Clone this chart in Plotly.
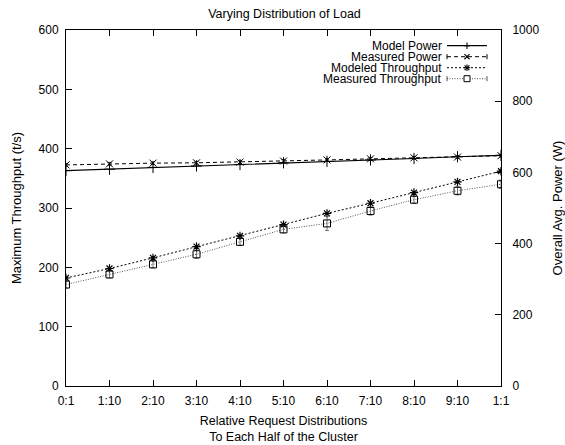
import plotly.graph_objects as go

categories = ["0:1", "1:10", "2:10", "3:10", "4:10", "5:10", "6:10", "7:10", "8:10", "9:10", "1:1"]
model_power = [605, 609, 614, 618, 622, 627, 631, 635, 639, 644, 648]
measured_power = [621, 624, 626, 627, 629, 632, 635, 638, 641, 643, 647]
measured_power_err = [4, 4, 4, 4, 4, 4, 4, 4, 4, 4, 4]
modeled_tput = [182, 198, 216, 235, 253, 272, 291, 308, 326, 344, 362]
measured_tput = [171, 188, 205, 222, 243, 264, 274, 295, 314, 329, 340]
measured_tput_err = [6, 6, 6, 7, 6, 6, 12, 7, 6, 7, 7]
series_names = ["Model Power", "Measured Power", "Modeled Throughput", "Measured Throughput"]

FONT = "Liberation Sans, Arial, sans-serif"
W, H = 565, 445
ML, MR, MT, MB = 66, 64, 30, 59
PW, PH = W - ML - MR, H - MT - MB

styles = [
    dict(line=dict(color="black", width=1.2, dash="solid"),
         marker=dict(symbol="cross-thin-open", size=8, color="black", line=dict(width=1, color="black"))),
    dict(line=dict(color="black", width=1, dash="4px,3px"),
         marker=dict(symbol="x-thin-open", size=7, color="black", line=dict(width=1, color="black"))),
    dict(line=dict(color="black", width=1, dash="2px,2px"),
         marker=dict(symbol="asterisk-open", size=7, color="black", line=dict(width=1.2, color="black"))),
    dict(line=dict(color="#555555", width=1, dash="1px,1.5px"),
         marker=dict(symbol="square-open", size=7, color="black", line=dict(width=1, color="black"))),
]

fig = go.Figure()
fig.add_trace(go.Scatter(x=categories, y=model_power, name=series_names[0], yaxis="y2",
                         mode="lines+markers", **styles[0]))
fig.add_trace(go.Scatter(x=categories, y=measured_power, name=series_names[1], yaxis="y2",
                         mode="lines+markers", **styles[1],
                         error_y=dict(type="data", array=measured_power_err, color="black", thickness=0.8, width=2)))
fig.add_trace(go.Scatter(x=categories, y=modeled_tput, name=series_names[2], yaxis="y",
                         mode="lines+markers", **styles[2]))
fig.add_trace(go.Scatter(x=categories, y=measured_tput, name=series_names[3], yaxis="y",
                         mode="lines+markers", **styles[3],
                         error_y=dict(type="data", array=measured_tput_err, color="#555555", thickness=0.8, width=2)))


def px(x):
    return (x - ML) / PW


def py(y):
    return (H - MB - y) / PH


# gnuplot-style legend: right-aligned text with key sample to its right
shapes = []
annotations = []
row_y0, row_dy = 45.7, 11.0
text_right, samp_l, samp_r = 444, 447, 487
samp_c = (samp_l + samp_r) / 2
for i, name in enumerate(series_names):
    yy = row_y0 + row_dy * i
    ln = styles[i]["line"]
    annotations.append(dict(text=name, xref="paper", yref="paper", x=px(text_right), y=py(yy),
                            xanchor="right", yanchor="middle", showarrow=False,
                            font=dict(family=FONT, size=12, color="black")))
    shapes.append(dict(type="line", xref="paper", yref="paper", x0=px(samp_l), x1=px(samp_r),
                       y0=py(yy), y1=py(yy), line=dict(color=ln["color"], width=ln["width"], dash=ln["dash"])))
    s = 3.2
    if i == 0:
        segs = [((-s, 0), (s, 0)), ((0, -s), (0, s))]
    elif i == 1:
        segs = [((-s * 0.8, -s * 0.8), (s * 0.8, s * 0.8)), ((-s * 0.8, s * 0.8), (s * 0.8, -s * 0.8))]
    elif i == 2:
        segs = [((-s, 0), (s, 0)), ((0, -s), (0, s)),
                ((-s * 0.75, -s * 0.75), (s * 0.75, s * 0.75)), ((-s * 0.75, s * 0.75), (s * 0.75, -s * 0.75))]
    else:
        segs = []
        shapes.append(dict(type="rect", xref="paper", yref="paper",
                           x0=px(samp_c - 3), x1=px(samp_c + 3), y0=py(yy - 3), y1=py(yy + 3),
                           line=dict(color="black", width=1), fillcolor="white"))
    for (a, b) in segs:
        shapes.append(dict(type="line", xref="paper", yref="paper",
                           x0=px(samp_c + a[0]), x1=px(samp_c + b[0]),
                           y0=py(yy + a[1]), y1=py(yy + b[1]), line=dict(color="black", width=1.1)))
    if i in (1, 3):
        for ex in (samp_l, samp_r):
            shapes.append(dict(type="line", xref="paper", yref="paper", x0=px(ex), x1=px(ex),
                               y0=py(yy - 2.5), y1=py(yy + 2.5), line=dict(color=ln["color"], width=1)))

axis_common = dict(
    showline=True, linecolor="black", linewidth=1, ticks="inside", ticklen=6,
    tickcolor="black", showgrid=False, zeroline=False, automargin=False,
    tickfont=dict(family=FONT, size=12, color="black"),
)

fig.update_layout(
    width=W, height=H,
    margin=dict(l=ML, r=MR, t=MT, b=MB),
    paper_bgcolor="white", plot_bgcolor="white",
    font=dict(family=FONT, size=12, color="black"),
    title=dict(text="Varying Distribution of Load", x=284.5 / W, xanchor="center",
               y=1 - 14 / H, yanchor="middle", font=dict(family=FONT, size=12.5, color="black")),
    xaxis=dict(
        **axis_common, type="category", range=[0, 10], mirror="ticks", ticklabelstandoff=4,
        title=dict(text="Relative Request Distributions<br>To Each Half of the Cluster",
                   font=dict(family=FONT, size=12.5, color="black"), standoff=8),
    ),
    yaxis=dict(
        **axis_common, range=[0, 600], dtick=100, ticklabelstandoff=4,
        title=dict(text="Maximum Throughput (t/s)", font=dict(family=FONT, size=13, color="black"), standoff=14),
    ),
    yaxis2=dict(
        **axis_common, range=[0, 1000], dtick=200, overlaying="y", side="right", ticklabelstandoff=8,
        title=dict(text="Overall Avg. Power (W)", font=dict(family=FONT, size=13, color="black"), standoff=15),
    ),
    shapes=shapes,
    annotations=annotations,
    showlegend=False,
)

fig.write_html("out.html", config={"displayModeBar": False},
               post_script="document.body.style.margin='0';document.body.style.overflow='hidden';")
